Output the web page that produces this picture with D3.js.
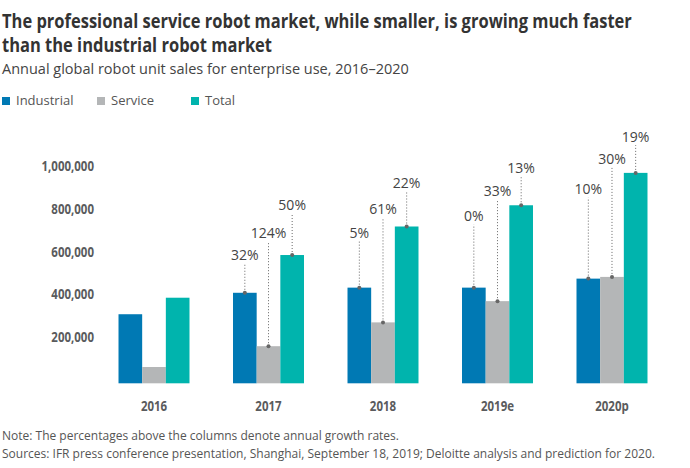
<!DOCTYPE html>
<html>
<head>
<meta charset="utf-8">
<script src="https://cdn.jsdelivr.net/npm/d3@7"></script>
<style>
  body { margin: 0; background: #fff; }
  svg { display: block; font-family: "Open Sans", sans-serif; }
</style>
</head>
<body>
<svg id="chart" width="690" height="468"></svg>
<script>
// ---- data ----
const years = ["2016", "2017", "2018", "2019e", "2020p"];
const seriesNames = ["Industrial", "Service", "Total"];
const industrial = [322000, 422000, 446000, 446000, 488000];
const service    = [76000, 173000, 284000, 383000, 496000];
const total      = [399000, 598000, 731000, 830000, 981000];
const growthIndustrial = [null, "32%", "5%", "0%", "10%"];
const growthService    = [null, "124%", "61%", "33%", "30%"];
const growthTotal      = [null, "50%", "22%", "13%", "19%"];
// annotation label anchors, in data units
const labelIndustrial = [null, 598000, 702000, 780000, 906000];
const labelService    = [null, 702000, 811000, 897000, 1046000];
const labelTotal      = [null, 831000, 935000, 1005000, 1150000];
const yTicks = [200000, 400000, 600000, 800000, 1000000];

const colors = { Industrial: "#0079b4", Service: "#b4b6b7", Total: "#00b4ad" };

const svg = d3.select("#chart");

// ---- title (one text element, two lines) ----
const titleG = svg.append("g").attr("fill", "#333").style("font-weight", 700).style("font-size", "20px");
const title = titleG.append("text").attr("x", 0).attr("y", 28);
const t1 = title.append("tspan").attr("x", 0).attr("y", 28)
  .text("The professional service robot market, while smaller, is growing much faster");
title.append("tspan").attr("x", 0).attr("y", 52)
  .text("than the industrial robot market");
const w1 = t1.node().getComputedTextLength();
const ratio = 630 / w1;
titleG.attr("transform", `translate(2,0) scale(${ratio},1)`);

svg.append("text").attr("x", 2).attr("y", 74).attr("fill", "#444")
  .style("font-size", "14.5px")
  .text("Annual global robot unit sales for enterprise use, 2016–2020");

// ---- legend ----
const legendX = [2, 97, 191];
seriesNames.forEach((n, i) => {
  svg.append("rect").attr("x", legendX[i]).attr("y", 97).attr("width", 8).attr("height", 8).attr("fill", colors[n]);
  svg.append("text").attr("x", legendX[i] + 14).attr("y", 105).attr("fill", "#555")
    .style("font-size", "13px").text(n);
});

// ---- scales ----
const x = d3.scaleBand().domain(years).range([75, 691]).paddingInner(0.38).paddingOuter(0.38);
const xs = d3.scaleBand().domain(seriesNames).range([0, x.bandwidth()]);
const y = d3.scaleLinear().domain([0, 1000000]).range([383.3, 168.8]);

// ---- y axis ----
const yAxis = svg.append("g").attr("transform", "translate(100,0)")
  .call(d3.axisLeft(y).tickValues(yTicks).tickSize(0).tickPadding(0).tickFormat(d3.format(",")));
yAxis.select(".domain").remove();
yAxis.selectAll("text")
  .attr("x", 0).attr("y", -3)
  .attr("transform", "translate(-6,0) scale(0.82,1)")
  .attr("fill", "#5a5b5d").style("font-size", "14px").style("font-weight", 700)
  .style("font-family", "'Open Sans', sans-serif");

// ---- bars ----
const rows = years.map((yr, i) => ({
  year: yr,
  vals: [
    { s: "Industrial", v: industrial[i], g: growthIndustrial[i], l: labelIndustrial[i] },
    { s: "Service", v: service[i], g: growthService[i], l: labelService[i] },
    { s: "Total", v: total[i], g: growthTotal[i], l: labelTotal[i] }
  ]
}));

const groups = svg.append("g").selectAll("g").data(rows).join("g")
  .attr("transform", d => `translate(${x(d.year)},0)`);

groups.selectAll("rect").data(d => d.vals).join("rect")
  .attr("x", d => xs(d.s)).attr("width", xs.bandwidth())
  .attr("y", d => y(d.v)).attr("height", d => y(0) - y(d.v))
  .attr("fill", d => colors[d.s]);

// ---- annotations ----
const ann = groups.selectAll("g.ann").data(d => d.vals.filter(v => v.g !== null)).join("g").attr("class", "ann");
ann.append("line")
  .attr("x1", d => xs(d.s) + xs.bandwidth() / 2).attr("x2", d => xs(d.s) + xs.bandwidth() / 2)
  .attr("y1", d => y(d.v)).attr("y2", d => y(d.l) + 8.5)
  .attr("stroke", "#666").attr("stroke-width", 1).attr("stroke-dasharray", "1,2");
ann.append("circle")
  .attr("cx", d => xs(d.s) + xs.bandwidth() / 2).attr("cy", d => y(d.v)).attr("r", 2)
  .attr("fill", "#666");
ann.append("text")
  .attr("x", d => xs(d.s) + xs.bandwidth() / 2).attr("y", d => y(d.l) + 5)
  .attr("text-anchor", "middle").attr("fill", "#444").style("font-size", "14px")
  .text(d => d.g);

// ---- x axis labels ----
const xAxis = svg.append("g").attr("transform", "translate(0,383.3)")
  .call(d3.axisBottom(x).tickSize(0).tickPadding(0));
xAxis.select(".domain").remove();
xAxis.selectAll("text")
  .attr("y", 28).attr("dy", 0)
  .attr("transform", "scale(0.82,1)")
  .attr("fill", "#5a5b5d").style("font-size", "14px").style("font-weight", 700)
  .style("font-family", "'Open Sans', sans-serif");
xAxis.selectAll(".tick text").attr("x", 0);
xAxis.selectAll(".tick").each(function(d) {
  const cx = x(d) + x.bandwidth() / 2;
  d3.select(this).attr("transform", `translate(${cx},0)`);
});

// ---- footnotes ----
svg.append("text").attr("x", 2).attr("y", 440).attr("fill", "#555").style("font-size", "12px")
  .text("Note: The percentages above the columns denote annual growth rates.");
svg.append("text").attr("x", 2).attr("y", 458).attr("fill", "#555").style("font-size", "12px")
  .text("Sources: IFR press conference presentation, Shanghai, September 18, 2019; Deloitte analysis and prediction for 2020.");
</script>
</body>
</html>
